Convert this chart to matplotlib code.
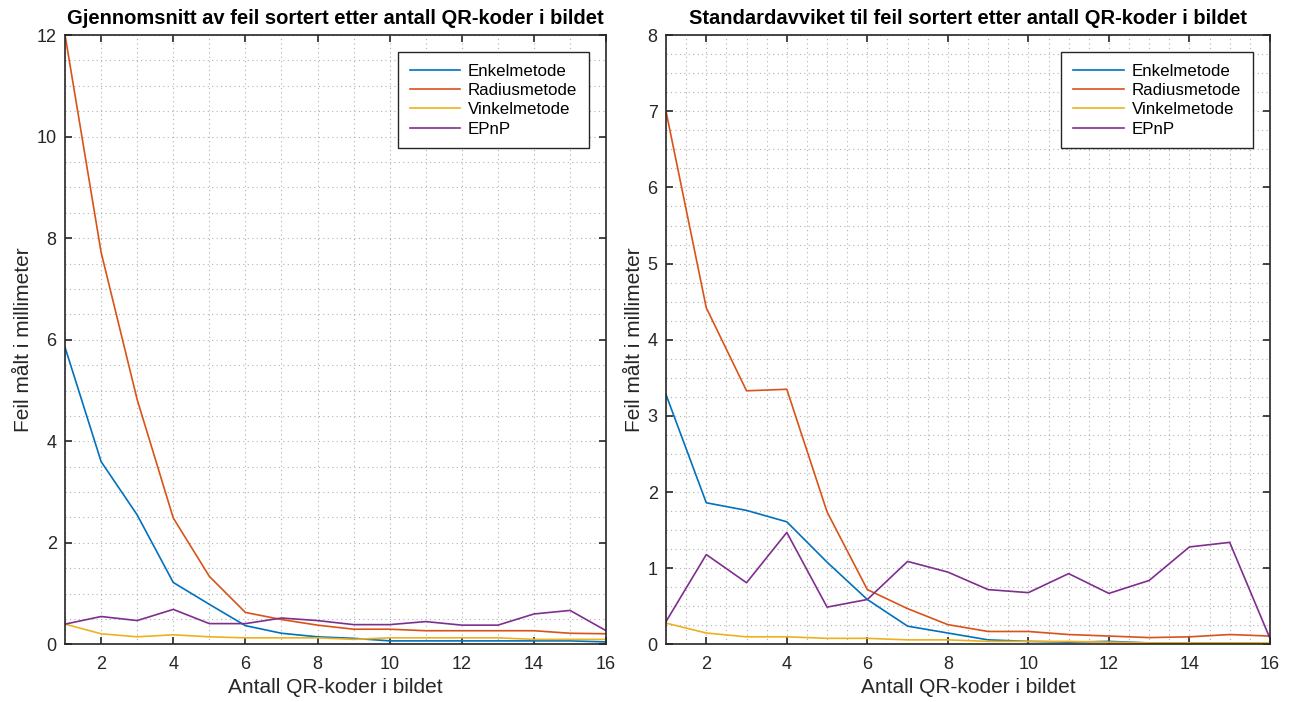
import matplotlib
matplotlib.use('Agg')
import matplotlib.pyplot as plt
from matplotlib.ticker import MultipleLocator
import numpy as np

plt.rcParams['font.family'] = ['Liberation Sans', 'DejaVu Sans']

# antall QR-koder i bildet
antall = np.arange(1, 17)

# gjennomsnitt av feil
snitt_enkel = [5.85, 3.6, 2.55, 1.22, 0.79, 0.37, 0.22, 0.15, 0.12, 0.07, 0.07, 0.07, 0.07, 0.07, 0.07, 0.05]
snitt_radius = [12.0, 7.72, 4.82, 2.49, 1.34, 0.63, 0.49, 0.38, 0.3, 0.3, 0.27, 0.27, 0.27, 0.27, 0.22, 0.21]
snitt_vinkel = [0.4, 0.21, 0.15, 0.19, 0.15, 0.13, 0.13, 0.13, 0.1, 0.13, 0.13, 0.13, 0.13, 0.1, 0.1, 0.1]
snitt_epnp = [0.4, 0.55, 0.47, 0.69, 0.41, 0.41, 0.52, 0.47, 0.39, 0.39, 0.45, 0.38, 0.38, 0.6, 0.67, 0.27]

# standardavvik
std_enkel = [3.28, 1.86, 1.76, 1.61, 1.08, 0.59, 0.24, 0.15, 0.06, 0.04, 0.03, 0.04, 0.02, 0.02, 0.02, 0.01]
std_radius = [7.0, 4.42, 3.33, 3.35, 1.74, 0.72, 0.47, 0.26, 0.17, 0.17, 0.13, 0.11, 0.09, 0.1, 0.13, 0.11]
std_vinkel = [0.28, 0.15, 0.1, 0.1, 0.08, 0.08, 0.06, 0.06, 0.04, 0.04, 0.04, 0.03, 0.02, 0.02, 0.02, 0.02]
std_epnp = [0.3, 1.18, 0.81, 1.47, 0.49, 0.59, 1.09, 0.95, 0.72, 0.68, 0.93, 0.67, 0.84, 1.28, 1.34, 0.08]

navn = ['Enkelmetode', 'Radiusmetode', 'Vinkelmetode', 'EPnP']
farger = ['#0072BD', '#D95319', '#EDB120', '#7E2F8E']

fig = plt.figure(figsize=(12.96, 7.02), dpi=100)
ax1 = fig.add_axes([0.0502, 0.082, 0.4175, 0.868])
ax2 = fig.add_axes([0.5139, 0.082, 0.4660, 0.868])

def tegn(ax, serier, ymax, ymaj, ymin, xmin, tittel):
    for s, n, c in zip(serier, navn, farger):
        ax.plot(antall, s, color=c, lw=1.2, label=n)
    ax.set_xlim(1, 16)
    ax.set_ylim(0, ymax)
    ax.xaxis.set_major_locator(MultipleLocator(2))
    ax.xaxis.set_minor_locator(MultipleLocator(xmin))
    ax.yaxis.set_major_locator(MultipleLocator(ymaj))
    ax.yaxis.set_minor_locator(MultipleLocator(ymin))
    ax.grid(True, which='both', linestyle=(0, (1, 3)), color='#b0b0b0', lw=0.8)
    ax.tick_params(which='major', direction='in', top=True, right=True, length=5,
                   labelsize=13, colors='#262626', width=1.2)
    ax.tick_params(axis='x', which='major', pad=8)
    ax.tick_params(axis='y', which='major', pad=6)
    ax.tick_params(which='minor', length=0)
    for sp in ax.spines.values():
        sp.set_color('#262626')
        sp.set_linewidth(1.2)
    ax.set_title(tittel, fontsize=14.5, fontweight='bold', pad=8)
    ax.set_xlabel('Antall QR-koder i bildet', fontsize=15, color='#262626', labelpad=4)
    ax.set_ylabel('Feil målt i millimeter', fontsize=15, color='#262626', labelpad=2.5)
    leg = ax.legend(loc='upper right', fontsize=12.2, handlelength=3.0, handletextpad=0.45,
                    fancybox=False, framealpha=1, edgecolor='#262626', borderaxespad=1.0,
                    borderpad=0.7, labelspacing=0.25)
    leg.get_frame().set_linewidth(1.0)

tegn(ax1, [snitt_enkel, snitt_radius, snitt_vinkel, snitt_epnp], 12, 2, 0.5, 1,
     'Gjennomsnitt av feil sortert etter antall QR-koder i bildet')
tegn(ax2, [std_enkel, std_radius, std_vinkel, std_epnp], 8, 1, 0.25, 0.5,
     'Standardavviket til feil sortert etter antall QR-koder i bildet')

plt.savefig('out.png')
